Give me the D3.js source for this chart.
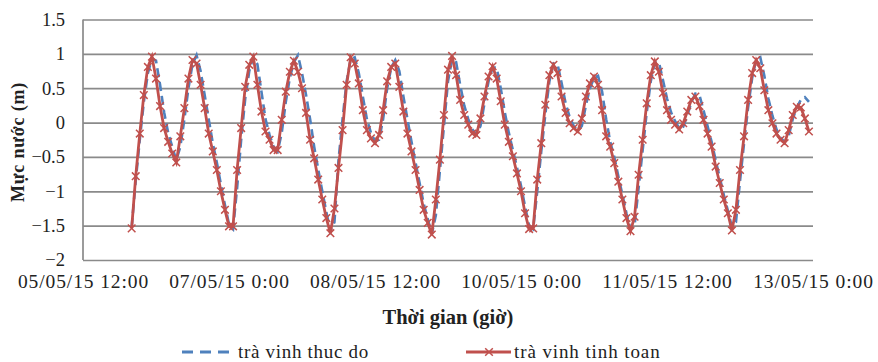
<!DOCTYPE html>
<html>
<head>
<meta charset="utf-8">
<script src="https://cdn.jsdelivr.net/npm/d3@7"></script>
<style>
  body { margin: 0; background: #fff; }
  svg { display: block; }
  text { font-family: "Liberation Serif", "DejaVu Serif", serif; fill: #222; }
</style>
</head>
<body>
<svg id="chart" width="878" height="362"></svg>
<script>
// ---- data ----
const seriesNames = ["trà vinh thuc do", "trà vinh tinh toan"];
const startTime = "2015-05-06T00:00:00";   // first observation, hourly
const xTickLabels = ["2015-05-05T12:00", "2015-05-07T00:00", "2015-05-08T12:00",
                     "2015-05-10T00:00", "2015-05-11T12:00", "2015-05-13T00:00"];
const yTicks = [1.5, 1, 0.5, 0, -0.5, -1, -1.5, -2];

// measured (blue dashed)
const thucDo = [
  -1.52, -0.85, -0.25, 0.30, 0.72, 0.93, 0.90, 0.55, 0.15, -0.15, -0.35, -0.55,
  -0.35, 0.05, 0.50, 0.85, 0.98, 0.75, 0.40, 0.05, -0.30, -0.58, -0.90, -1.20,
  -1.48, -1.55, -0.95, -0.25, 0.35, 0.75, 0.95, 0.85, 0.45, 0.05, -0.18, -0.35,
  -0.42, -0.15, 0.30, 0.65, 0.88, 0.98, 0.72, 0.40, 0.05, -0.35, -0.68, -1.00,
  -1.30, -1.58, -1.45, -0.55, 0.05, 0.60, 0.92, 0.95, 0.72, 0.38, 0.05, -0.15,
  -0.27, -0.25, 0.05, 0.50, 0.80, 0.91, 0.75, 0.38, 0.05, -0.28, -0.58, -0.88,
  -1.18, -1.40, -1.62, -1.35, -0.70, -0.05, 0.60, 0.92, 0.88, 0.55, 0.25, 0.05,
  -0.10, -0.17, -0.05, 0.28, 0.60, 0.80, 0.80, 0.50, 0.15, -0.15, -0.40, -0.65,
  -0.92, -1.22, -1.50, -1.55, -1.00, -0.42, 0.12, 0.60, 0.86, 0.85, 0.58, 0.28,
  0.08, -0.05, -0.12, -0.05, 0.25, 0.50, 0.65, 0.68, 0.45, 0.05, -0.28, -0.50,
  -0.78, -1.05, -1.32, -1.55, -1.50, -0.95, -0.40, 0.15, 0.60, 0.87, 0.88, 0.62,
  0.35, 0.15, 0.02, -0.08, -0.06, 0.10, 0.30, 0.42, 0.40, 0.18, -0.05, -0.28,
  -0.55, -0.80, -1.05, -1.28, -1.52, -1.45, -0.85, -0.30, 0.22, 0.65, 0.92, 0.95,
  0.68, 0.35, 0.10, -0.10, -0.22, -0.28, -0.20, 0.05, 0.22, 0.33, 0.37, 0.30
];

// computed (red with x markers)
const tinhToan = [
  -1.54, -0.78, -0.16, 0.40, 0.81, 0.96, 0.64, 0.24, -0.08, -0.28, -0.45, -0.58,
  -0.20, 0.21, 0.64, 0.91, 0.86, 0.55, 0.21, -0.16, -0.42, -0.69, -1.00, -1.27,
  -1.51, -1.51, -0.69, -0.08, 0.52, 0.84, 0.96, 0.55, 0.16, -0.13, -0.25, -0.40,
  -0.40, 0.04, 0.45, 0.74, 0.90, 0.74, 0.50, 0.14, -0.25, -0.52, -0.83, -1.12,
  -1.39, -1.61, -1.25, -0.66, -0.11, 0.55, 0.95, 0.86, 0.57, 0.18, -0.11, -0.23,
  -0.30, -0.18, 0.18, 0.60, 0.81, 0.86, 0.52, 0.16, -0.16, -0.42, -0.69, -0.98,
  -1.27, -1.46, -1.63, -1.12, -0.54, 0.11, 0.77, 0.97, 0.69, 0.33, 0.11, -0.03,
  -0.16, -0.18, 0.06, 0.38, 0.67, 0.82, 0.64, 0.31, -0.03, -0.28, -0.49, -0.74,
  -1.00, -1.32, -1.55, -1.54, -0.83, -0.30, 0.26, 0.69, 0.84, 0.72, 0.38, 0.14,
  -0.01, -0.08, -0.13, 0.06, 0.38, 0.57, 0.67, 0.55, 0.18, -0.20, -0.35, -0.59,
  -0.86, -1.12, -1.39, -1.58, -1.37, -0.76, -0.25, 0.28, 0.69, 0.89, 0.74, 0.43,
  0.18, 0.04, -0.03, -0.10, -0.01, 0.16, 0.33, 0.38, 0.24, 0.04, -0.16, -0.35,
  -0.64, -0.88, -1.12, -1.32, -1.57, -1.27, -0.69, -0.20, 0.33, 0.72, 0.91, 0.79,
  0.47, 0.18, -0.01, -0.16, -0.25, -0.30, -0.11, 0.11, 0.23, 0.22, 0.06, -0.13
];

// ---- layout ----
const svg = d3.select("#chart");
const plotLeft = 83, plotRight = 813, plotTop = 19.5, plotBottom = 260;

const t0 = new Date(startTime);
const times = thucDo.map((_, i) => new Date(t0.getTime() + i * 3600e3));
const tickDates = xTickLabels.map(s => new Date(s));

const x = d3.scaleTime()
  .domain([tickDates[0], tickDates[tickDates.length - 1]])
  .range([plotLeft, plotRight]);
const y = d3.scaleLinear().domain([-2, 1.5]).range([plotBottom, plotTop]);

// gridlines + y labels
const yAxis = d3.axisLeft(y).tickValues(yTicks).tickSize(-(plotRight - plotLeft))
  .tickFormat(d => d3.format("")(d));
const gy = svg.append("g").attr("transform", `translate(${plotLeft},0)`).call(yAxis);
gy.select(".domain").remove();
gy.selectAll(".tick line").attr("stroke", "#8a8a8a").attr("stroke-width", 1.7);
gy.selectAll(".tick text").attr("font-size", 18.5).attr("fill", "#222")
  .attr("font-family", "Liberation Serif, serif").attr("x", -18);

// left axis line
svg.append("line").attr("x1", plotLeft).attr("x2", plotLeft).attr("y1", plotTop).attr("y2", plotBottom)
  .attr("stroke", "#8a8a8a").attr("stroke-width", 1.7);

// x axis labels
const fmt = d3.timeFormat("%d/%m/%y %-H:%M");
const xAxis = d3.axisBottom(x).tickValues(tickDates).tickSize(0).tickPadding(14).tickFormat(fmt);
const gx = svg.append("g").attr("transform", `translate(0,${plotBottom})`).call(xAxis);
gx.select(".domain").remove();
gx.selectAll(".tick text").attr("font-size", 19.5).attr("fill", "#222")
  .attr("letter-spacing", "0.9px")
  .attr("font-family", "Liberation Serif, serif");

// lines
const line = d3.line().x((d, i) => x(times[i])).y(d => y(d));
const blue = "#4F81BD", red = "#C0504D";

svg.append("path").datum(thucDo).attr("d", line)
  .attr("fill", "none").attr("stroke", blue).attr("stroke-width", 2.6)
  .attr("stroke-dasharray", "9,5");

svg.append("path").datum(tinhToan).attr("d", line)
  .attr("fill", "none").attr("stroke", red).attr("stroke-width", 2.8);

const ms = 3.8;
svg.append("g").selectAll("path").data(tinhToan).join("path")
  .attr("d", (d, i) => {
    const cx = x(times[i]), cy = y(d);
    return `M${cx - ms},${cy - ms}L${cx + ms},${cy + ms}M${cx - ms},${cy + ms}L${cx + ms},${cy - ms}`;
  })
  .attr("stroke", red).attr("stroke-width", 1.5).attr("fill", "none");

// axis titles
svg.append("text").attr("x", (plotLeft + plotRight) / 2).attr("y", 324)
  .attr("text-anchor", "middle").attr("font-weight", "bold").attr("font-size", 20.5)
  .text("Thời gian (giờ)");
svg.append("text").attr("transform", "translate(24,142) rotate(-90)")
  .attr("text-anchor", "middle").attr("font-weight", "bold").attr("font-size", 18)
  .attr("letter-spacing", "0.8px")
  .text("Mực nước (m)");

// legend
const lgY = 352;
const lg = svg.append("g");
lg.append("line").attr("x1", 182).attr("x2", 233).attr("y1", lgY).attr("y2", lgY)
  .attr("stroke", blue).attr("stroke-width", 2.8).attr("stroke-dasharray", "11,7");
lg.append("text").attr("x", 238).attr("y", 357.5).attr("font-size", 19)
  .attr("letter-spacing", "0.7px").text(seriesNames[0]);
lg.append("line").attr("x1", 466).attr("x2", 511).attr("y1", lgY).attr("y2", lgY)
  .attr("stroke", red).attr("stroke-width", 2.8);
lg.append("path").attr("d", `M${489 - ms},${lgY - ms}L${489 + ms},${lgY + ms}M${489 - ms},${lgY + ms}L${489 + ms},${lgY - ms}`)
  .attr("stroke", red).attr("stroke-width", 1.5);
lg.append("text").attr("x", 514).attr("y", 357.5).attr("font-size", 19)
  .attr("letter-spacing", "0.9px").text(seriesNames[1]);
</script>
</body>
</html>
